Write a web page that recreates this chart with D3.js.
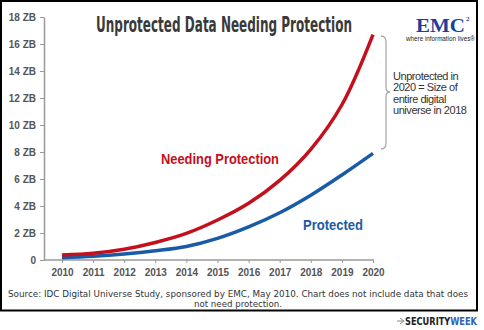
<!DOCTYPE html>
<html>
<head>
<meta charset="utf-8">
<script src="https://cdn.jsdelivr.net/npm/d3@7"></script>
<style>
  html, body { margin: 0; padding: 0; background: #fff; }
  svg { display: block; }
</style>
</head>
<body>
<svg id="chart" width="484" height="330"></svg>
<script>
// ─── Data ─────────────────────────────────────────────────────────────────────

const years             = [2010, 2011, 2012, 2013, 2014, 2015, 2016, 2017, 2018, 2019, 2020];
const needingProtection = [0.37, 0.5, 0.8, 1.3, 1.97, 2.96, 4.2, 5.9, 8.2, 11.5, 16.7];
const protectedData     = [0.17, 0.27, 0.44, 0.68, 1.0, 1.6, 2.45, 3.5, 4.8, 6.3, 7.9];
const yTicks            = [0, 2, 4, 6, 8, 10, 12, 14, 16, 18];

const titleText  = "Unprotected Data Needing Protection";
const noteLines  = ["Unprotected in", "2020 = Size of", "entire digital", "universe in 2018"];
const sourceLines = [
  "Source: IDC Digital Universe Study, sponsored by EMC, May 2010.  Chart does not include data that does",
  "not need protection."
];

// ─── Setup ────────────────────────────────────────────────────────────────────

const svg = d3.select("#chart");
const SANS = "'Liberation Sans', Arial, sans-serif";

svg.append("rect")
  .attr("x", 1).attr("y", 1).attr("width", 476).attr("height", 309.5)
  .attr("fill", "#fff").attr("stroke", "#000").attr("stroke-width", 2);

const x = d3.scaleLinear().domain([2010, 2020]).range([62, 373]);
const y = d3.scaleLinear().domain([0, 18]).range([260, 17]);

// ─── Axes ─────────────────────────────────────────────────────────────────────

const yAxis = svg.append("g")
  .attr("transform", "translate(44,0)")
  .call(d3.axisLeft(y).tickValues(yTicks).tickSize(4).tickSizeOuter(0).tickPadding(4)
    .tickFormat(d => d === 0 ? "0" : d + " ZB"));

const xAxis = svg.append("g")
  .attr("transform", "translate(0,260)")
  .call(d3.axisBottom(x).tickValues(years).tickSize(3).tickPadding(6)
    .tickFormat(d3.format("d")));
xAxis.select(".domain").remove();

svg.append("line")
  .attr("x1", 44).attr("x2", 374).attr("y1", 260).attr("y2", 260)
  .attr("stroke", "#999").attr("stroke-width", 1.5);

[yAxis, xAxis].forEach(g => {
  g.selectAll(".domain").attr("stroke", "#999").attr("stroke-width", 1.5);
  g.selectAll(".tick line").attr("stroke", "#999").attr("stroke-width", 1);
  g.selectAll(".tick text")
    .attr("fill", "#555")
    .style("font-family", SANS)
    .style("font-size", "10px")
    .style("font-weight", "bold");
});

// ─── Lines ────────────────────────────────────────────────────────────────────

const line = vals => d3.line()
  .x((d, i) => x(years[i]))
  .y(d => y(d))
  .curve(d3.curveCatmullRom.alpha(0.5))(vals);

svg.append("path").attr("d", line(protectedData))
  .attr("fill", "none").attr("stroke", "#1a5ba5").attr("stroke-width", 3.5);
svg.append("path").attr("d", line(needingProtection))
  .attr("fill", "none").attr("stroke", "#c40f1c").attr("stroke-width", 3.5);

svg.append("text").text("Needing Protection")
  .attr("x", 161).attr("y", 164)
  .attr("textLength", 118).attr("lengthAdjust", "spacingAndGlyphs")
  .attr("fill", "#c40f1c")
  .style("font-family", SANS).style("font-size", "14px").style("font-weight", "bold");

svg.append("text").text("Protected")
  .attr("x", 303).attr("y", 230)
  .attr("textLength", 60).attr("lengthAdjust", "spacingAndGlyphs")
  .attr("fill", "#1a5ba5")
  .style("font-family", SANS).style("font-size", "14px").style("font-weight", "bold");

// ─── Title & logo ─────────────────────────────────────────────────────────────

svg.append("text").text(titleText)
  .attr("x", 96).attr("y", 32)
  .attr("textLength", 256).attr("lengthAdjust", "spacingAndGlyphs")
  .attr("fill", "#3a3a3a")
  .style("font-family", "'Liberation Sans Narrow', 'DejaVu Sans Condensed', sans-serif")
  .style("font-size", "21px").style("font-weight", "bold");

svg.append("text").text("EMC")
  .attr("x", 416).attr("y", 32)
  .attr("textLength", 49).attr("lengthAdjust", "spacingAndGlyphs")
  .attr("fill", "#1c3f94")
  .style("font-family", "'Liberation Serif', serif")
  .style("font-size", "19px").style("font-weight", "bold");

svg.append("text").text("2")
  .attr("x", 466).attr("y", 21)
  .attr("fill", "#1c3f94")
  .style("font-family", "'Liberation Serif', serif")
  .style("font-size", "7px").style("font-weight", "bold");

svg.append("text").text("where information lives\u00ae")
  .attr("x", 406).attr("y", 41)
  .attr("textLength", 69).attr("lengthAdjust", "spacingAndGlyphs")
  .attr("fill", "#222")
  .style("font-family", SANS).style("font-size", "6.5px");

// ─── Brace annotation ─────────────────────────────────────────────────────────

const bx = 381, bTop = 36, bMid = 92, bBot = 149;
svg.append("path")
  .attr("d", `M${bx},${bTop} Q${bx + 5},${bTop} ${bx + 5},${bTop + 6} L${bx + 5},${bMid - 5}
              Q${bx + 5},${bMid} ${bx + 9},${bMid} Q${bx + 5},${bMid} ${bx + 5},${bMid + 5}
              L${bx + 5},${bBot - 6} Q${bx + 5},${bBot} ${bx},${bBot}`)
  .attr("fill", "none").attr("stroke", "#aaa").attr("stroke-width", 1.3);

svg.append("g").selectAll("text").data(noteLines).join("text")
  .attr("x", 393).attr("y", (d, i) => 80 + i * 11.3)
  .text(d => d)
  .attr("fill", "#333")
  .style("font-family", SANS).style("font-size", "11px").style("letter-spacing", "-0.45px");

// ─── Source & footer ──────────────────────────────────────────────────────────

svg.append("text").text(sourceLines[0])
  .attr("x", 8).attr("y", 297)
  .attr("textLength", 460).attr("lengthAdjust", "spacingAndGlyphs")
  .attr("fill", "#333")
  .style("font-family", "'DejaVu Sans', Verdana, sans-serif").style("font-size", "9.5px");

svg.append("text").text(sourceLines[1])
  .attr("x", 194).attr("y", 307)
  .attr("textLength", 88).attr("lengthAdjust", "spacingAndGlyphs")
  .attr("fill", "#333")
  .style("font-family", "'DejaVu Sans', Verdana, sans-serif").style("font-size", "9.5px");

svg.append("path")
  .attr("d", "M397,321 L403,321 M400,318 L404,321 L400,324")
  .attr("fill", "none").attr("stroke", "#888").attr("stroke-width", 1);

const footer = svg.append("text")
  .attr("x", 405).attr("y", 325)
  .attr("textLength", 72).attr("lengthAdjust", "spacingAndGlyphs")
  .style("font-family", "'Liberation Sans Narrow', 'DejaVu Sans Condensed', sans-serif")
  .style("font-size", "11px").style("font-weight", "bold");
footer.append("tspan").text("SECURITY").attr("fill", "#222");
footer.append("tspan").text("WEEK").attr("fill", "#2f62b5");
</script>
</body>
</html>
